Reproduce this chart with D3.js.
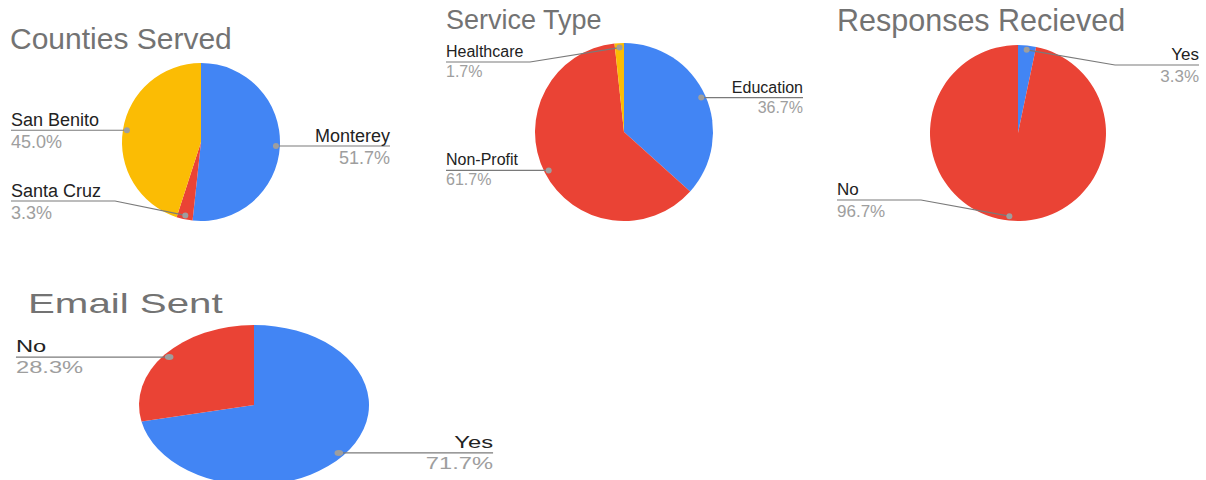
<!DOCTYPE html>
<html>
<head>
<meta charset="utf-8">
<script src="https://cdn.jsdelivr.net/npm/d3@7"></script>
<style>
  body { margin: 0; background: #fff; }
  text { font-family: 'Liberation Sans', Arial, sans-serif; }
</style>
</head>
<body>
<div id="charts"></div>
<script>
// data
const countyNames = ['Monterey', 'Santa Cruz', 'San Benito']
const countyShares = [51.7, 3.3, 45.0]

const serviceNames = ['Education', 'Non-Profit', 'Healthcare']
const serviceShares = [36.7, 61.7, 1.7]

const responseNames = ['Yes', 'No']
const responseShares = [3.3, 96.7]

const emailNames = ['Yes', 'No']
const emailShares = [71.7, 28.3]

const sliceColors = ['#4285f4', '#ea4335', '#fbbc04']

const width = 1206
const height = 480

const svg = d3
  .select('#charts')
  .append('svg')
  .attr('width', width)
  .attr('height', height)

// layout of each panel (sx stretches the last one sideways like the original)
const panels = [
  { title: 'Counties Served', names: countyNames, values: countyShares,
    titleX: 10, titleY: 49, titleSize: 30, cx: 201, cy: 142, r: 79,
    fontSize: 18, leftX: 11, rightX: 390, elbow: 104, yMin: -1e9, yMax: 201, sx: 1, nameDy: -4, pctDy: 18 },
  { title: 'Service Type', names: serviceNames, values: serviceShares,
    titleX: 446, titleY: 29, titleSize: 27, cx: 624, cy: 132, r: 89,
    fontSize: 16, leftX: 446, rightX: 803, elbow: 84, yMin: 62, yMax: 1e9, sx: 1, nameDy: -5, pctDy: 15 },
  { title: 'Responses Recieved', names: responseNames, values: responseShares,
    titleX: 837, titleY: 31, titleSize: 30.5, cx: 1018, cy: 133, r: 88,
    fontSize: 17, leftX: 837, rightX: 1199, elbow: 84, yMin: 65, yMax: 200, sx: 1, nameDy: -5, pctDy: 17 },
  { title: 'Email Sent', names: emailNames, values: emailShares,
    titleX: 19.5, titleY: 313, titleSize: 28, cx: 176.7, cy: 405, r: 80,
    fontSize: 16.5, leftX: 11.1, rightX: 343, elbow: 60, yMin: -1e9, yMax: 1e9, sx: 1.4375, nameDy: -5, pctDy: 16 }
]

const pie = d3.pie().sort(null).value(d => d.value)

panels.forEach(p => {
  const data = p.names.map((name, i) => ({ name: name, value: p.values[i], i: i }))
  const arcs = pie(data)

  const g = svg.append('g').attr('transform', 'scale(' + p.sx + ',1)')

  g.append('text')
    .text(p.title)
    .attr('x', p.titleX)
    .attr('y', p.titleY)
    .attr('font-size', p.titleSize)
    .attr('fill', '#737373')

  const arc = d3.arc().innerRadius(0).outerRadius(p.r)
  const dotArc = d3.arc().innerRadius(p.r * 0.95).outerRadius(p.r * 0.95)

  const pieG = g.append('g').attr('transform', 'translate(' + p.cx + ',' + p.cy + ')')

  pieG
    .selectAll('path')
    .data(arcs)
    .enter()
    .append('path')
    .attr('d', arc)
    .attr('fill', d => sliceColors[d.data.i])

  arcs.forEach(d => {
    const c = dotArc.centroid(d)
    const dotX = p.cx + c[0]
    const dotY = p.cy + c[1]
    const onRight = dotX > p.cx
    const lineY = Math.max(p.yMin, Math.min(p.yMax, dotY))
    const edgeX = onRight ? p.rightX : p.leftX
    const elbowX = onRight ? edgeX - p.elbow : edgeX + p.elbow

    g.append('polyline')
      .attr('points', [[edgeX, lineY], [elbowX, lineY], [dotX, dotY]].join(' '))
      .attr('fill', 'none')
      .attr('stroke', '#7a7a7a')
      .attr('stroke-width', 1.2)

    g.append('circle')
      .attr('cx', dotX)
      .attr('cy', dotY)
      .attr('r', 3)
      .attr('fill', '#9e9e9e')

    g.append('text')
      .text(d.data.name)
      .attr('x', edgeX)
      .attr('y', lineY + p.nameDy)
      .attr('text-anchor', onRight ? 'end' : 'start')
      .attr('font-size', p.fontSize)
      .attr('fill', '#222')

    g.append('text')
      .text(d.data.value.toFixed(1) + '%')
      .attr('x', edgeX)
      .attr('y', lineY + p.pctDy)
      .attr('text-anchor', onRight ? 'end' : 'start')
      .attr('font-size', p.fontSize)
      .attr('fill', '#9e9e9e')
  })
})
</script>
</body>
</html>
